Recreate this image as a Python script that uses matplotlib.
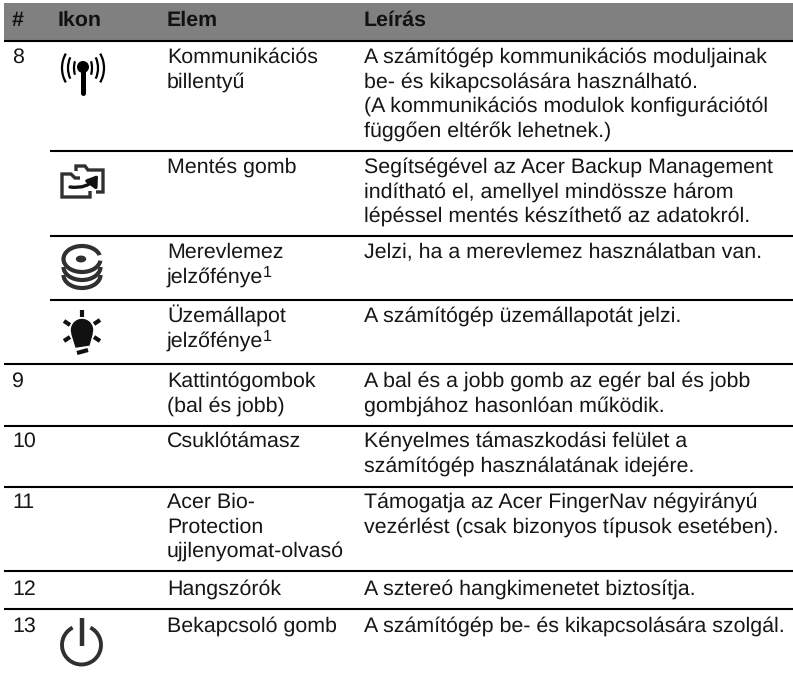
import numpy as np
import matplotlib
matplotlib.use("Agg")
import matplotlib.pyplot as plt
from matplotlib.patches import Arc, Circle, Ellipse, Polygon, Rectangle, FancyArrowPatch

plt.rcParams["font.family"] = ["Liberation Sans", "DejaVu Sans"]
plt.rcParams["text.hinting"] = "no_hinting"

# Table content
headers = ["#", "Ikon", "Elem", "Leírás"]
numbers = ["8", "", "", "", "9", "10", "11", "12", "13"]
elements = [
    ["Kommunikációs", "billentyű"],
    ["Mentés gomb"],
    ["Merevlemez", "jelzőfénye"],
    ["Üzemállapot", "jelzőfénye"],
    ["Kattintógombok", "(bal és jobb)"],
    ["Csuklótámasz"],
    ["Acer Bio-", "Protection", "ujjlenyomat-olvasó"],
    ["Hangszórók"],
    ["Bekapcsoló gomb"],
]
descriptions = [
    ["A számítógép kommunikációs moduljainak", "be- és kikapcsolására használható.",
     "(A kommunikációs modulok konfigurációtól", "függően eltérők lehetnek.)"],
    ["Segítségével az Acer Backup Management", "indítható el, amellyel mindössze három",
     "lépéssel mentés készíthető az adatokról."],
    ["Jelzi, ha a merevlemez használatban van."],
    ["A számítógép üzemállapotát jelzi."],
    ["A bal és a jobb gomb az egér bal és jobb", "gombjához hasonlóan működik."],
    ["Kényelmes támaszkodási felület a", "számítógép használatának idejére."],
    ["Támogatja az Acer FingerNav négyirányú", "vezérlést (csak bizonyos típusok esetében)."],
    ["A sztereó hangkimenetet biztosítja."],
    ["A számítógép be- és kikapcsolására szolgál."],
]
footnoted = [2, 3]

# Layout in image pixels
W, H = 793, 677
baselines = [63, 173, 258, 322, 387, 447, 508, 595, 632]
full_rules = [41, 364, 426, 487, 571, 609]
sub_rules = [151, 236, 300]
col_x = [12, 58, 167, 364]
line_h = 24.4
fs = 15.4
ink = "#161616"
icon = "#2e3130"

fig = plt.figure(figsize=(W / 100, H / 100), dpi=100)
ax = fig.add_axes([0, 0, 1, 1])
ax.set_xlim(0, W)
ax.set_ylim(H, 0)
ax.axis("off")

# Header band and rules
ax.add_patch(Rectangle((4, 3), W - 4, 37, facecolor="#808080", edgecolor="none"))
for y in full_rules:
    ax.plot([4, W], [y, y], color="black", lw=1.5, solid_capstyle="butt")
for y in sub_rules:
    ax.plot([50, W], [y, y], color="black", lw=1.5, solid_capstyle="butt")

for x, h in zip(col_x, headers):
    ax.text(x, 26, h, fontsize=fs, fontweight="bold", color="#111111", va="baseline")

# Rows
for i, y0 in enumerate(baselines):
    ax.text(col_x[0], y0, numbers[i], fontsize=fs, color=ink, va="baseline")
    for k, line in enumerate(elements[i]):
        t = ax.text(col_x[2], y0 + k * line_h, line, fontsize=fs, color=ink, va="baseline")
    if i in footnoted:
        ax.annotate("1", xy=(1, 0), xycoords=t, xytext=(-0.5, 7), textcoords="offset points",
                    fontsize=11.5, color=ink, va="baseline")
    for k, line in enumerate(descriptions[i]):
        ax.text(col_x[3], y0 + k * line_h, line, fontsize=fs, color=ink, va="baseline")

# Icon: antenna
for r, h in [(9, 24), (15, 32), (21, 40)]:
    for a, b in [(145, 215), (-35, 35)]:
        ax.add_patch(Arc((83, 68), 2 * r, 1.25 * h, theta1=a - 5, theta2=b + 5, color="black", lw=1.6))
ax.add_patch(Circle((83, 67), 5.3, color="black"))
ax.plot([83, 83], [68, 93], color="black", lw=3.6, solid_capstyle="round")

# Icon: backup folder
ax.plot([76, 76, 85, 88, 103, 103, 96], [171, 166, 166, 170, 170, 192, 192],
        color=icon, lw=2.4, solid_joinstyle="miter", solid_capstyle="butt")
ax.plot([90, 90, 62, 62, 71, 75, 80], [191, 197, 197, 174, 174, 178, 178],
        color=icon, lw=2.4, solid_joinstyle="miter", solid_capstyle="butt")
ax.add_patch(FancyArrowPatch((70, 187), (98, 175), connectionstyle="arc3,rad=0.3",
                             arrowstyle="-|>,head_length=6,head_width=4", color="#111111", lw=2.4,
                             shrinkA=0, shrinkB=0))

# Icon: hard disk
for dy in (16, 8):
    ax.add_patch(Arc((82, 259 + dy), 37, 26, theta1=0, theta2=180, color=icon, lw=3))
ax.add_patch(Ellipse((82, 259), 37, 26, facecolor="white", edgecolor=icon, lw=3))
ax.add_patch(Ellipse((81, 259), 9, 5.5, color=icon))
ax.add_patch(Polygon([[88, 259], [103, 254], [103, 261]], facecolor="white", edgecolor="none"))

# Icon: status light
ax.add_patch(Circle((82, 330), 10.5, color="#111111"))
ax.add_patch(Polygon([[72, 334], [92, 334], [89, 345], [76, 347]], color="#111111"))
for seg in [((82, 310), (82, 317)), ((64, 321), (70, 325)), ((100, 320), (94, 324)),
            ((64, 341), (70, 337)), ((100, 341), (94, 337)), ((77, 353), (88, 350))]:
    ax.plot(*zip(*seg), color="#111111", lw=3, solid_capstyle="butt")

# Icon: power
ax.add_patch(Arc((81.5, 645), 39, 39, theta1=297, theta2=243, color=icon, lw=2.8))
ax.plot([81.5, 81.5], [618, 646], color=icon, lw=3.2, solid_capstyle="butt")

fig.savefig("out.png", dpi=100, facecolor="white")
